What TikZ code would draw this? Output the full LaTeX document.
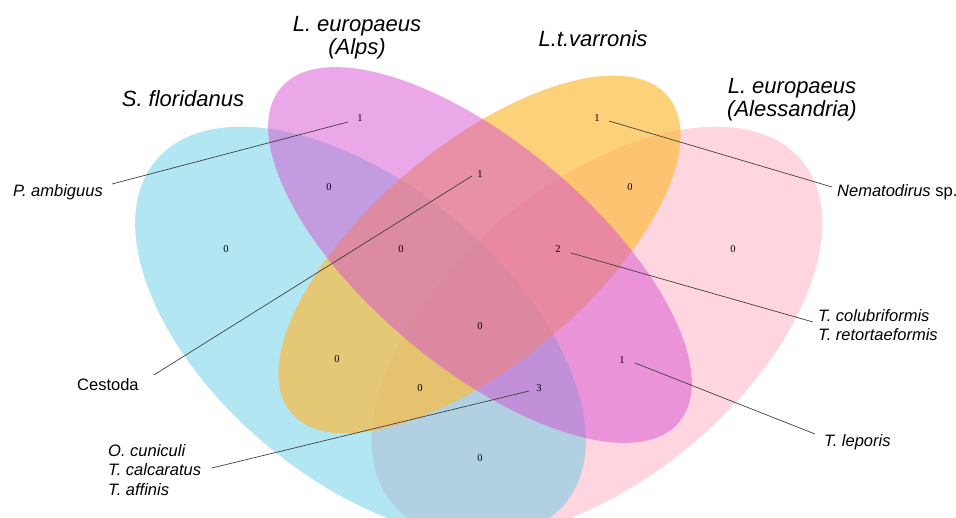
\documentclass[tikz,border=0pt]{standalone}
\usepackage{fontspec}
\setmainfont{Liberation Sans}
\newfontfamily\countfont{Liberation Serif}

\definecolor{floridanus}{RGB}{101,205,229}
\definecolor{alps}{RGB}{213,81,209}
\definecolor{varronis}{RGB}{252,188,65}
\definecolor{alessandria}{RGB}{255,173,193}

\tikzset{
  venn/.style={fill=#1, fill opacity=0.5},
  hostname/.style={font=\fontsize{22}{23.5}\selectfont\itshape, align=center, inner sep=0pt},
  parasite/.style={font=\fontsize{16.5}{19.3}\selectfont, align=left, anchor=west, inner sep=0pt},
  count/.style={font=\countfont\fontsize{10.5}{12}\selectfont, inner sep=1pt},
  callout/.style={draw=black!75, line width=0.7pt}
}

\begin{document}
\begin{tikzpicture}[x=1pt,y=-1pt]
\useasboundingbox (0,0) rectangle (956,518);
\clip (0,0) rectangle (956,518);
%\draw[help lines,step=50] (0,0) grid (956,518);
% the four sets
\fill[venn=alessandria, shift={(597,332)}, rotate=40] (0,0) ellipse [x radius=267pt, y radius=147pt];
\fill[venn=floridanus, shift={(360.5,332)}, rotate=-40] (0,0) ellipse [x radius=267pt, y radius=147pt];
\fill[venn=varronis, fill opacity=0.7, shift={(479.5,254.5)}, rotate=40] (0,0) ellipse [x radius=246pt, y radius=109pt];
\fill[venn=alps, shift={(480,255)}, rotate=-40] (0,0) ellipse [x radius=260pt, y radius=112pt];

% host names
\node[hostname] (hfl) at (183,99) {S. floridanus};
\node[hostname] (hal) at (357,37.5) {L. europaeus\\(Alps)};
\node[hostname] (hva) at (593,39) {L.t.varronis};
\node[hostname] (has) at (792,99.5) {L. europaeus\\(Alessandria)};

% counts
\node[count] (fl) at (226,249) {0};
\node[count] (al) at (360,118) {1};
\node[count] (va) at (597,118) {1};
\node[count] (as) at (733,249) {0};
\node[count] (flal) at (329,187) {0};
\node[count] (alva) at (480,174) {1};
\node[count] (vaas) at (630,187) {0};
\node[count] (flva) at (337,359) {0};
\node[count] (alas) at (622,360) {1};
\node[count] (flas) at (480,458) {0};
\node[count] (flalva) at (401,249) {0};
\node[count] (alvaas) at (558,249) {2};
\node[count] (flvaas) at (420,388) {0};
\node[count] (flalas) at (539,388) {3};
\node[count] (all) at (480,326) {0};

% parasites
\node[parasite] (pamb) at (13,192.5) {\textit{P. ambiguus}};
\node[parasite] (cest) at (77,384.5) {Cestoda};
\node[parasite] (ocun) at (108,470) {\textit{O. cuniculi}\\\textit{T. calcaratus}\\\textit{T. affinis}};
\node[parasite] (nema) at (837,192) {\textit{Nematodirus} sp.};
\node[parasite] (tcol) at (818,325) {\textit{T. colubriformis}\\\textit{T. retortaeformis}};
\node[parasite] (tlep) at (824,441.8) {\textit{T. leporis}};

\draw[callout] ([shift={(-12,4)}]al.center) -- ([shift={(9,-8.5)}]pamb.east);
\draw[callout] ([shift={(-8,2)}]alva.center) -- ([shift={(15,-9.5)}]cest.east);
\draw[callout] ([shift={(-10,3)}]flalas.center) -- ([shift={(10.5,-2)}]ocun.east);
\draw[callout] ([shift={(12,3)}]va.center) -- ([shift={(-5,-5)}]nema.west);
\draw[callout] ([shift={(13,4)}]alvaas.center) -- ([shift={(-5,-3)}]tcol.west);
\draw[callout] ([shift={(13,3)}]alas.center) -- ([shift={(-9,-7.8)}]tlep.west);
\end{tikzpicture}
\end{document}
